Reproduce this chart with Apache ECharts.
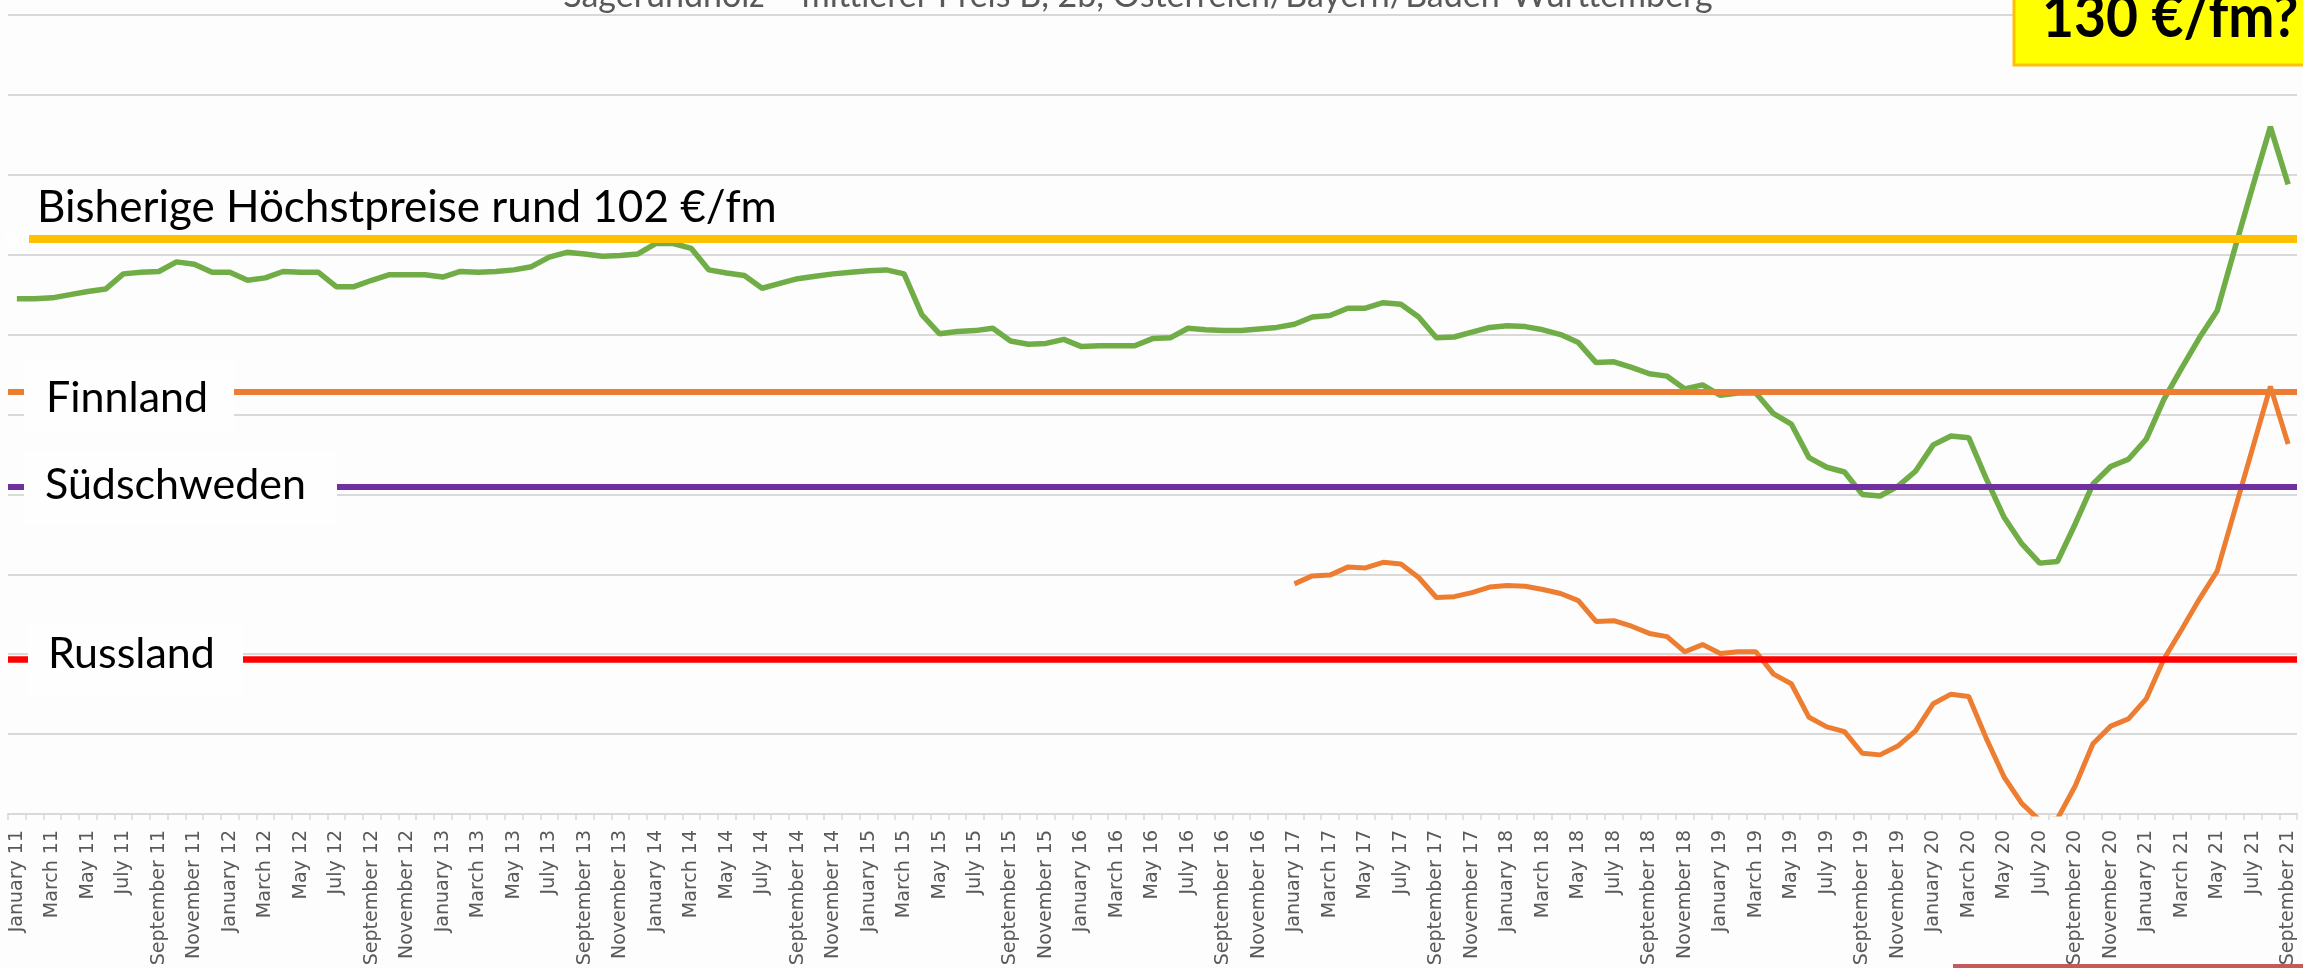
<!DOCTYPE html>
<html>
<head>
<meta charset="utf-8">
<script src="https://cdn.jsdelivr.net/npm/echarts/dist/echarts.min.js"></script>
<style>
  html, body { margin: 0; padding: 0; background: #fdfdfd; }
  #chart { width: 2303px; height: 968px; }
</style>
</head>
<body>
<div id="chart"></div>
<script>
// Monatsachse: Januar 2011 bis September 2021
const monthNames = ['January', 'February', 'March', 'April', 'May', 'June',
  'July', 'August', 'September', 'October', 'November', 'December']
const years = ['11', '12', '13', '14', '15', '16', '17', '18', '19', '20', '21']
const lastYearMonths = 9

// Sägerundholz – mittlerer Preis (grüne Kurve), €/fm
const p2011 = [94.5, 94.5, 94.6, 95.0, 95.4, 95.7, 97.6, 97.8, 97.9, 99.1, 98.8, 97.8]
const p2012 = [97.8, 96.8, 97.1, 97.9, 97.8, 97.8, 96.0, 96.0, 96.8, 97.5, 97.5, 97.5]
const p2013 = [97.2, 97.9, 97.8, 97.9, 98.1, 98.5, 99.7, 100.3, 100.1, 99.8, 99.9, 100.1]
const p2014 = [101.4, 101.4, 100.8, 98.1, 97.7, 97.4, 95.8, 96.4, 97.0, 97.3, 97.6, 97.8]
const p2015 = [98.0, 98.1, 97.6, 92.5, 90.1, 90.4, 90.5, 90.8, 89.2, 88.8, 88.9, 89.4]
const p2016 = [88.5, 88.6, 88.6, 88.6, 89.5, 89.6, 90.8, 90.6, 90.5, 90.5, 90.7, 90.9]
const p2017 = [91.3, 92.2, 92.4, 93.3, 93.3, 94.0, 93.8, 92.2, 89.6, 89.7, 90.3, 90.9]
const p2018 = [91.1, 91.0, 90.6, 90.0, 89.0, 86.5, 86.6, 85.9, 85.1, 84.8, 83.2, 83.7]
const p2019 = [82.4, 82.7, 82.7, 80.1, 78.8, 74.6, 73.4, 72.8, 70.0, 69.8, 71.0, 72.9]
const p2020 = [76.2, 77.3, 77.1, 71.9, 67.1, 63.8, 61.4, 61.6, 66.3, 71.3, 73.5, 74.4]
const p2021 = [76.9, 81.9, 85.8, 89.6, 93.0, 100.8, 108.5, 116.0, 108.8]

// orange Kurve ab Januar 2017
const orangeStart = 'January 17'
const o2017 = [58.8, 59.8, 59.9, 60.9, 60.8, 61.5, 61.3, 59.6, 57.1, 57.2, 57.7, 58.4]
const o2018 = [58.6, 58.5, 58.1, 57.6, 56.7, 54.1, 54.2, 53.5, 52.6, 52.2, 50.3, 51.2]
const o2019 = [50.1, 50.3, 50.3, 47.5, 46.3, 42.1, 40.9, 40.3, 37.6, 37.4, 38.5, 40.4]
const o2020 = [43.8, 45.0, 44.7, 39.4, 34.6, 31.3, 29.2, 29.4, 33.5, 38.8, 41.0, 41.9]
const o2021 = [44.4, 49.4, 53.1, 56.9, 60.4, 68.1, 75.8, 83.5, 76.3]

// Vergleichsniveaus (horizontale Linien)
const refNames = ['Bisherige Höchstpreise rund 102 €/fm', 'Finnland', 'Südschweden', 'Russland']
const refValues = [102, 82.9, 71.0, 49.4]
const refColors = ['#FFC000', '#ED7D31', '#7030A0', '#FF0000']
const refWidths = [8, 6, 6, 6.5]

const yMin = 30
const yMax = 130
const yStep = 10

const categories = []
years.forEach((y, k) => {
  const n = k === years.length - 1 ? lastYearMonths : 12
  for (let m = 0; m < n; m++) categories.push(monthNames[m] + ' ' + y)
})

const gruen = [].concat(p2011, p2012, p2013, p2014, p2015, p2016, p2017, p2018, p2019, p2020, p2021)
const orangeValues = [].concat(o2017, o2018, o2019, o2020, o2021)
const startIdx = categories.indexOf(orangeStart)
const orange = orangeValues.map((v, k) => [categories[startIdx + k], v])

const chart = echarts.init(document.getElementById('chart'), null, { renderer: 'canvas' })

// Textbausteine (Lato statt Calibri), y über die Grundlinie
const mid = (baseline, size) => baseline - 0.387 * size

function label (text, x, baseline, size, font, extra) {
  return Object.assign({
    type: 'text',
    z: 20,
    x,
    y: mid(baseline, size),
    style: {
      text,
      font: (font || '') + size + 'px Lato',
      fill: '#000',
      align: 'left',
      verticalAlign: 'middle',
      textAlign: 'left',
      textVerticalAlign: 'middle'
    }
  }, extra || {})
}

function plainBox (x, y, w, h) {
  return { type: 'rect', z: 15, shape: { x, y, width: w, height: h }, style: { fill: '#fefefe' } }
}

const graphic = [
  {
    type: 'text',
    z: 20,
    x: 1138,
    y: mid(9, 34),
    style: {
      text: 'Sägerundholz – mittlerer Preis B, 2b, Österreich/Bayern/Baden-Württemberg',
      font: '34px Lato',
      fill: '#595959',
      align: 'center',
      verticalAlign: 'middle',
      textAlign: 'center',
      textVerticalAlign: 'middle'
    }
  },
  // gelbe Linie beginnt erst rechts vom Rand
  plainBox(5, 232, 24, 14),
  label(refNames[0], 37, 225, 44),
  plainBox(24, 360, 210, 72),
  label(refNames[1], 46, 415, 43),
  plainBox(24, 452, 313, 72),
  label(refNames[2], 45, 502, 43),
  plainBox(28, 624, 215, 72),
  label(refNames[3], 48, 671, 43),
  // gelbe Box oben rechts
  {
    type: 'rect',
    z: 18,
    shape: { x: 2014, y: -20, width: 320, height: 85 },
    style: { fill: '#FFFF00', stroke: '#FFC000', lineWidth: 3 }
  },
  label('130 €/fm?', 2042, 41, 60, 'bold ', { scaleX: 0.92 }),
  // angeschnittene Box unten rechts
  {
    type: 'rect',
    z: 18,
    shape: { x: 1953, y: 964, width: 360, height: 10 },
    style: { fill: '#C55A5A' }
  }
]

const option = {
  backgroundColor: '#fdfdfd',
  animation: false,
  grid: { left: 8, right: 6, top: 15, bottom: 154, containLabel: false, outerBoundsMode: 'none' },
  xAxis: {
    type: 'category',
    data: categories,
    boundaryGap: true,
    axisLine: { lineStyle: { color: '#d9d9d9', width: 2 } },
    axisTick: { show: true, interval: 0, length: 6, lineStyle: { color: '#d9d9d9', width: 1.5 } },
    axisLabel: {
      interval: 1,
      rotate: 90,
      margin: 16,
      color: '#595959',
      fontFamily: 'DejaVu Sans',
      fontSize: 19
    },
    splitLine: { show: false }
  },
  yAxis: {
    type: 'value',
    min: yMin,
    max: yMax,
    interval: yStep,
    axisLabel: { show: false },
    axisLine: { show: false },
    axisTick: { show: false },
    splitLine: { lineStyle: { color: '#d9d9d9', width: 2 } }
  },
  series: [
    {
      name: 'Vergleichsniveaus',
      type: 'line',
      data: [],
      z: 1,
      markLine: {
        silent: true,
        symbol: ['none', 'none'],
        label: { show: false },
        data: refValues.map((v, k) => ({
          yAxis: v,
          lineStyle: { color: refColors[k], width: refWidths[k], type: 'solid' }
        }))
      }
    },
    {
      name: 'Sägerundholz Österreich/Bayern/Baden-Württemberg',
      type: 'line',
      data: gruen,
      z: 3,
      symbol: 'none',
      clip: true,
      lineStyle: { color: '#70AD47', width: 5.5 }
    },
    {
      name: 'Orange Kurve',
      type: 'line',
      data: orange,
      z: 3,
      symbol: 'none',
      clip: true,
      lineStyle: { color: '#ED7D31', width: 5 }
    }
  ],
  graphic
}

chart.setOption(option)
</script>
</body>
</html>
